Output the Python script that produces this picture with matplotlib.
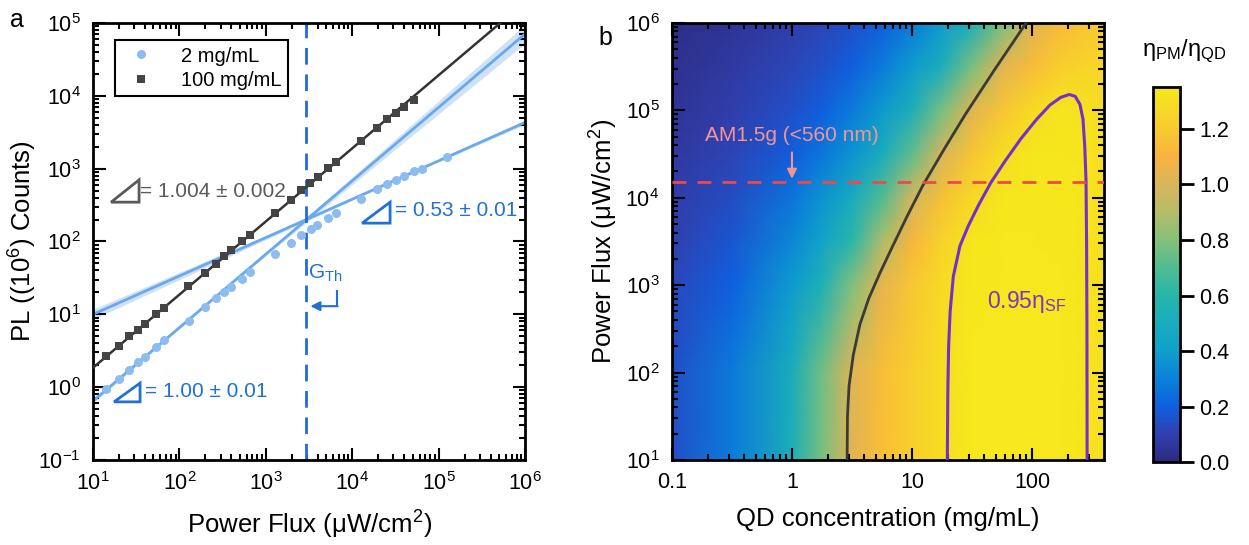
import numpy as np
import matplotlib
matplotlib.use("Agg")
import matplotlib.pyplot as plt
from matplotlib.colors import LinearSegmentedColormap
from matplotlib.patches import Polygon
from matplotlib.ticker import LogLocator, FixedLocator, FixedFormatter, NullFormatter

plt.rcParams["font.family"] = ["Liberation Sans", "DejaVu Sans"]
plt.rcParams["mathtext.fontset"] = "custom"
plt.rcParams["mathtext.rm"] = "Liberation Sans"
plt.rcParams["mathtext.it"] = "Liberation Sans:italic"
plt.rcParams["mathtext.bf"] = "Liberation Sans:bold"

# ---------------- panel a data ----------------
flux_2 = [14.2, 19.8, 26.3, 32.8, 40.4, 53.2, 66.9, 128.8, 196, 263, 330, 390, 531, 655,
          1275, 1958, 2578, 3340, 3880, 5250, 6530, 12730, 19200, 25250, 32300, 39800,
          52400, 64000, 124000]
pl_2 = [0.957, 1.29, 1.73, 2.23, 2.62, 3.57, 4.44, 8.12, 12.6, 16.6, 20, 24, 30.9, 37.7,
        68, 94.6, 122, 148, 169, 211, 249, 385, 518, 611, 705, 786, 927, 1000, 1436]

flux_100 = [14.2, 20, 26.3, 33, 40.4, 53.2, 65.7, 126.6, 196, 263, 330, 400, 531, 655,
            1275, 1958, 2578, 3238, 3993, 5250, 6530, 12730, 19200, 25250, 32300, 39800, 52400]
pl_100 = [2.71, 3.73, 5.07, 6.11, 7.43, 10, 12.4, 24.5, 37.3, 48.5, 63, 76.9, 100, 124.5,
          248, 373, 507, 631, 769, 1011, 1245, 2405, 3650, 4800, 5850, 7050, 8770]

# linear fits (end points) and confidence bands
fit_x = [10, 1e6]
fit_100_y = [1.85, 1.94e5]
fit_low_y = [0.646, 70800]
fit_high_y = [10, 4315]

band_x = [10, 100, 1e3, 1e4, 1e5, 1e6]
band_low_lo = [0.603, 6.35, 64, 608, 5650, 52500]
band_low_hi = [0.692, 6.81, 70.2, 766, 8550, 95500]
band_high_lo = [8.51, 30, 106, 371, 1240, 4030]
band_high_hi = [11.75, 37.8, 121, 392, 1327, 4620]

g_th = 2900

# ---------------- panel b data ----------------
conc_exp = [-1, -0.5, 0, 0.25, 0.5, 0.75, 1.0, 1.25, 1.5, 1.75, 2.0, 2.25, 2.45, 2.6]
flux_exp = [1, 2, 3, 3.5, 4, 4.5, 5, 5.5, 6]
ratio = [
    [0.15, 0.28, 0.52, 0.77, 1.03, 1.15, 1.22, 1.30, 1.345, 1.355, 1.358, 1.345, 1.331, 1.31],
    [0.148, 0.275, 0.51, 0.76, 1.02, 1.145, 1.215, 1.30, 1.345, 1.355, 1.358, 1.345, 1.331, 1.31],
    [0.122, 0.205, 0.39, 0.54, 0.79, 1.046, 1.185, 1.284, 1.34, 1.352, 1.355, 1.345, 1.33, 1.305],
    [0.10, 0.17, 0.32, 0.43, 0.61, 0.88, 1.11, 1.24, 1.337, 1.345, 1.35, 1.343, 1.33, 1.30],
    [0.085, 0.14, 0.26, 0.355, 0.49, 0.70, 0.98, 1.16, 1.27, 1.337, 1.343, 1.34, 1.33, 1.30],
    [0.065, 0.115, 0.19, 0.265, 0.36, 0.50, 0.73, 1.0, 1.175, 1.29, 1.335, 1.335, 1.33, 1.295],
    [0.05, 0.09, 0.15, 0.20, 0.28, 0.38, 0.52, 0.77, 1.03, 1.18, 1.28, 1.333, 1.315, 1.285],
    [0.035, 0.07, 0.12, 0.15, 0.20, 0.28, 0.385, 0.52, 0.78, 1.03, 1.14, 1.22, 1.25, 1.25],
    [0.02, 0.05, 0.09, 0.12, 0.15, 0.20, 0.28, 0.385, 0.53, 0.78, 1.03, 1.13, 1.18, 1.20],
]

# contour: ratio = 1
c1_conc = [2.88, 2.90, 2.99, 3.24, 3.68, 4.37, 5.37, 6.92, 9.12, 12.3, 18.6, 27.7, 49, 89.3]
c1_flux = [10, 31.6, 70.8, 158, 355, 708, 1349, 2818, 6166, 1.38e4, 3.63e4, 8.91e4, 2.95e5, 1e6]
# contour: 0.95 eta_SF
csf_conc = [19.7, 19.9, 20.2, 20.8, 22.1, 25.1, 29.5, 36.3, 45.7, 60.3, 81.3, 109.6, 141,
            174, 204, 229, 251, 266, 275, 282, 285, 287, 288]
csf_flux = [10, 63, 200, 501, 1259, 2818, 4786, 8511, 1.51e4, 2.69e4, 4.79e4, 7.94e4, 1.15e5,
            1.41e5, 1.52e5, 1.45e5, 1.17e5, 7.94e4, 3.98e4, 1.58e4, 3162, 316, 10]

am15_flux = 1.5e4

parula = LinearSegmentedColormap.from_list("parula", [
    (0.000, "#2c2a80"), (0.075, "#3141b0"), (0.148, "#0f60e0"), (0.222, "#0b82d8"),
    (0.296, "#0fa0cc"), (0.370, "#19acbd"), (0.444, "#27b5aa"), (0.519, "#50bc91"),
    (0.593, "#86c07a"), (0.667, "#b5bc68"), (0.741, "#d8b55c"), (0.815, "#f8b23f"),
    (0.889, "#f8ca30"), (0.963, "#f6de22"), (1.000, "#f6e81c")])

fig = plt.figure(figsize=(12.49, 5.45), dpi=100)
ax1 = fig.add_axes([0.0745, 0.156, 0.3459, 0.8018])
ax2 = fig.add_axes([0.538, 0.156, 0.3459, 0.8018])
cax = fig.add_axes([0.9231, 0.152, 0.0216, 0.688])

blue_line = "#6aa9ee"
blue_dot = "#8dbdf0"
blue_txt = "#2070d8"
band_col = "#cfe2f6"
tick_fs = 15.5
label_fs = 18.5

# ---- panel a ----
ax1.fill_between(band_x, band_low_lo, band_low_hi, color=band_col, lw=0, zorder=1)
ax1.fill_between(band_x, band_high_lo, band_high_hi, color=band_col, lw=0, zorder=1)
ax1.plot(fit_x, fit_100_y, color="#333333", lw=1.8, zorder=3)
ax1.plot(fit_x, fit_low_y, color=blue_line, lw=2, zorder=2)
ax1.plot(fit_x, fit_high_y, color=blue_line, lw=2, zorder=2)
ax1.plot(flux_2, pl_2, "o", color=blue_dot, ms=6.5, mew=0, label="2 mg/mL", zorder=4)
ax1.plot(flux_100, pl_100, "s", color="#444444", ms=5.5, mew=0, label="100 mg/mL", zorder=4)
ax1.axvline(g_th, color="#1f6dd6", lw=2, ls=(0, (6, 3.5)), zorder=2)

ax1.set_xscale("log")
ax1.set_yscale("log")
ax1.set_xlim(10, 1e6)
ax1.set_ylim(0.1, 1e5)
ax1.set_xlabel("Power Flux (μW/cm$^2$)", fontsize=label_fs, labelpad=10)
ax1.set_ylabel("PL ((10$^6$) Counts)", fontsize=label_fs, labelpad=-1)

leg = ax1.legend(loc="upper left", bbox_to_anchor=(0.05, 0.96), borderaxespad=0,
                 fontsize=14.5, fancybox=False, edgecolor="black", framealpha=1,
                 handletextpad=1.0, borderpad=0.3, labelspacing=0.25)
leg.get_frame().set_linewidth(1.5)

tri_gray = "#5a5a5a"
for (x0, x1, y0, y1), col in [((0.0417, 0.1065, 0.590, 0.641), tri_gray),
                              ((0.6227, 0.6875, 0.542, 0.590), blue_txt),
                              ((0.0486, 0.1088, 0.133, 0.176), blue_txt)]:
    ax1.add_patch(Polygon([(x0, y0), (x1, y0), (x1, y1)], closed=True, fill=False,
                          edgecolor=col, lw=2, transform=ax1.transAxes, zorder=5))
ax1.text(0.108, 0.6155, "= 1.004 ± 0.002", color=tri_gray, fontsize=15,
         transform=ax1.transAxes, va="center", ha="left", zorder=5)
ax1.text(0.699, 0.570, "= 0.53 ± 0.01", color=blue_txt, fontsize=15,
         transform=ax1.transAxes, va="center", ha="left", zorder=5)
ax1.text(0.121, 0.156, "= 1.00 ± 0.01", color=blue_txt, fontsize=15,
         transform=ax1.transAxes, va="center", ha="left", zorder=5)

ax1.text(0.5375, 0.426, r"G$_{\mathrm{Th}}$", color=blue_txt, fontsize=15,
         transform=ax1.transAxes, ha="center", va="center")
ax1.plot([0.565, 0.565], [0.387, 0.352], color=blue_txt, lw=1.5, transform=ax1.transAxes)
ax1.annotate("", xy=(0.503, 0.352), xytext=(0.566, 0.352), xycoords="axes fraction",
             arrowprops=dict(arrowstyle="-|>", color=blue_txt, lw=1.5, mutation_scale=14,
                             shrinkA=0, shrinkB=0))

# ---- panel b ----
C, F = np.meshgrid(10.0 ** np.array(conc_exp), 10.0 ** np.array(flux_exp))
mesh = ax2.pcolormesh(C, F, np.array(ratio), cmap=parula, vmin=0, vmax=1.35,
                      shading="gouraud", rasterized=True)
ax2.plot(c1_conc, c1_flux, color="#3a3a3a", lw=2, zorder=3)
ax2.plot(csf_conc, csf_flux, color="#7530c8", lw=2.2, zorder=3)
ax2.axhline(am15_flux, color="#f04848", lw=2, ls=(0, (5, 4)), zorder=4)
ax2.annotate("", xy=(1, 1.65e4), xytext=(1, 3.3e4),
             arrowprops=dict(arrowstyle="-|>", color="#f59494", lw=1.5, mutation_scale=14,
                             shrinkA=0, shrinkB=0), zorder=5)
ax2.text(1, 5.2e4, "AM1.5g (<560 nm)", color="#f59494", fontsize=15,
         ha="center", va="center")
ax2.text(42, 640, "0.95η$_{\\mathrm{SF}}$", color="#7a35c4", fontsize=16.5,
         ha="left", va="center")

ax2.set_xscale("log")
ax2.set_yscale("log")
ax2.set_xlim(0.1, 10 ** 2.6)
ax2.set_ylim(10, 1e6)
ax2.xaxis.set_major_locator(FixedLocator([0.1, 1, 10, 100]))
ax2.xaxis.set_major_formatter(FixedFormatter(["0.1", "1", "10", "100"]))
ax2.set_xlabel("QD concentration (mg/mL)", fontsize=label_fs, labelpad=10)
ax2.set_ylabel("Power Flux (μW/cm$^2$)", fontsize=label_fs, labelpad=4)

for ax in (ax1, ax2):
    ax.xaxis.set_minor_locator(LogLocator(base=10, subs=np.arange(2, 10), numticks=20))
    ax.yaxis.set_minor_locator(LogLocator(base=10, subs=np.arange(2, 10), numticks=20))
    ax.xaxis.set_minor_formatter(NullFormatter())
    ax.yaxis.set_minor_formatter(NullFormatter())
    ax.tick_params(which="both", direction="in", top=True, right=True, labelsize=tick_fs,
                   width=1.5, pad=9)
    ax.tick_params(which="major", length=9)
    ax.tick_params(which="minor", length=4.5)
    for sp in ax.spines.values():
        sp.set_linewidth(2)

cb = fig.colorbar(mesh, cax=cax, ticks=[0, 0.2, 0.4, 0.6, 0.8, 1.0, 1.2])
cb.ax.set_yticklabels(["0.0", "0.2", "0.4", "0.6", "0.8", "1.0", "1.2"])
cb.ax.tick_params(direction="out", length=10, width=2, labelsize=tick_fs, pad=4)
cb.outline.set_linewidth(2)
fig.text(0.948, 0.905, "η$_{\\mathrm{PM}}$/η$_{\\mathrm{QD}}$", fontsize=17,
         ha="center", va="center")

fig.text(0.008, 0.963, "a", fontsize=18, ha="left", va="center")
fig.text(0.479, 0.930, "b", fontsize=18, ha="left", va="center")

fig.savefig("out.png", dpi=100)
